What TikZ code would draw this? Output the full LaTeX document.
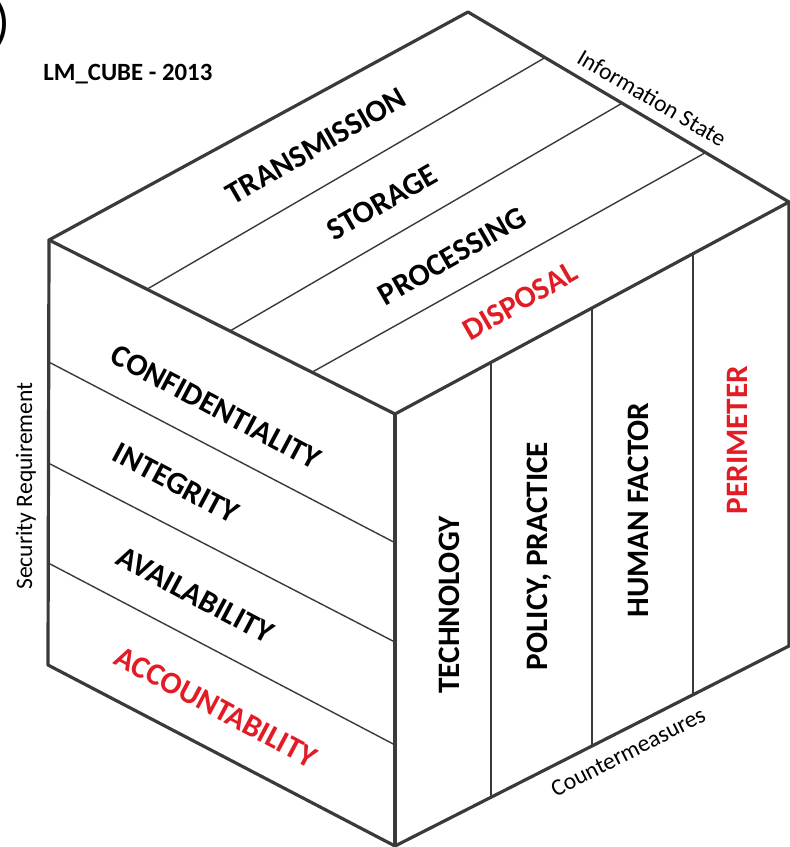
\documentclass[tikz,border=0pt]{standalone}
\usepackage{fontspec}
\setmainfont{Carlito}
\usepackage{xcolor}
\usepackage{tikz}
\usetikzlibrary{calc}
\definecolor{lmred}{RGB}{226,28,36}
\definecolor{edgegray}{RGB}{58,58,58}
\tikzset{
    edge/.style={line width=1.6pt, draw=edgegray, line join=round, line cap=round},
    stripe/.style={line width=0.7pt, draw=edgegray},
    cubelabel/.style={font=\fontsize{15.6}{18}\selectfont\bfseries, inner sep=0pt, text depth=0pt},
    axistext/.style={font=\fontsize{11.8}{14}\selectfont, inner sep=0pt},
}

\begin{document}
\begin{tikzpicture}[x=0.5pt, y=-0.5pt]
    \useasboundingbox (0,0) rectangle (790,847);

    % corners of the cube
    \coordinate (lt) at (49,240);
    \coordinate (bt) at (468,12);
    \coordinate (rt) at (789,202);
    \coordinate (ft) at (395,414);
    \coordinate (fb) at (395,846);
    \coordinate (lb) at (48,665);
    \coordinate (rb) at (789,646);

    % top face: information state
    \draw[stripe] ($(lt)!0.283!(ft)$) -- ($(bt)!0.24!(rt)$);
    \draw[stripe] ($(lt)!0.523!(ft)$) -- ($(bt)!0.48!(rt)$);
    \draw[stripe] ($(lt)!0.76!(ft)$) -- ($(bt)!0.74!(rt)$);

    % left face: security requirement
    \draw[stripe] ($(lt)!0.287!(lb)$) -- ($(ft)!0.298!(fb)$);
    \draw[stripe] ($(lt)!0.525!(lb)$) -- ($(ft)!0.528!(fb)$);
    \draw[stripe] ($(lt)!0.76!(lb)$) -- ($(ft)!0.766!(fb)$);

    % right face: countermeasures
    \draw[stripe] ($(ft)!0.244!(rt)$) -- ($(fb)!0.244!(rb)$);
    \draw[stripe] ($(ft)!0.5!(rt)$) -- ($(fb)!0.5!(rb)$);
    \draw[stripe] ($(ft)!0.756!(rt)$) -- ($(fb)!0.756!(rb)$);

    % outline
    \draw[edge] (lt) -- (bt) -- (rt) -- (rb) -- (fb) -- (lb) -- cycle;
    \draw[edge] (lt) -- (ft) -- (rt);
    \draw[edge] (ft) -- (fb);

    \node[anchor=east, inner sep=0pt, font=\fontsize{26}{30}\selectfont] (paren) at (11,24) {)};
    \node[anchor=base west, inner sep=0pt, font=\fontsize{12.4}{14}\selectfont\bfseries] (title) at (43,80) {LM\_CUBE - 2013};

    \node[cubelabel, rotate=30] (transmission) at (316,146) {TRANSMISSION};
    \node[cubelabel, rotate=30] (storage) at (382,202) {STORAGE};
    \node[cubelabel, rotate=30] (processing) at (452,256) {PROCESSING};
    \node[cubelabel, rotate=30, text=lmred] (disposal) at (520,301) {DISPOSAL};

    \node[cubelabel, rotate=-28] (confid) at (216,407) {CONFIDENTIALITY};
    \node[cubelabel, rotate=-28] (integrity) at (176,483) {INTEGRITY};
    \node[cubelabel, rotate=-28] (avail) at (195,595) {AVAILABILITY};
    \node[cubelabel, rotate=-28, text=lmred] (account) at (216,707) {ACCOUNTABILITY};

    \node[cubelabel, rotate=90] (tech) at (449,605) {TECHNOLOGY};
    \node[cubelabel, rotate=90] (policy) at (537,556) {POLICY, PRACTICE};
    \node[cubelabel, rotate=90] (human) at (638,510) {HUMAN FACTOR};
    \node[cubelabel, rotate=90, text=lmred] (perimeter) at (737,440) {PERIMETER};

    \node[axistext, rotate=-30.5] (infostate) at (652,98) {Information State};
    \node[axistext, rotate=90] (secreq) at (26,486) {Security Requirement};
    \node[axistext, rotate=27] (counter) at (628,752) {Countermeasures};
\end{tikzpicture}
\end{document}
